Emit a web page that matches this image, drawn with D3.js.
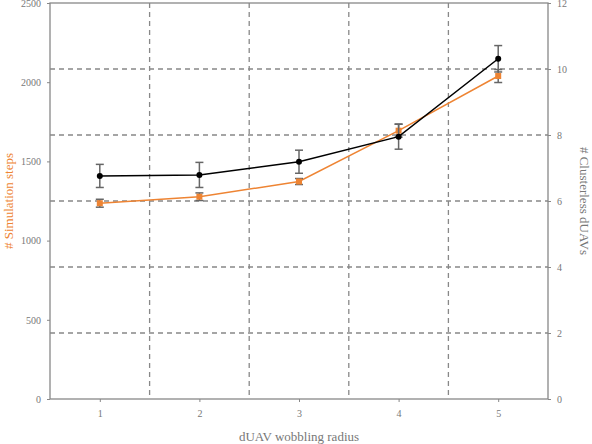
<!DOCTYPE html><html><head><meta charset="utf-8"><script src="https://cdn.jsdelivr.net/npm/d3@7"></script>
<style>body{margin:0;background:#fff}text{font-family:"Liberation Serif",serif;}</style></head><body><svg id="c" width="592" height="444"></svg><script>
const categories=[1,2,3,4,5];
const stepsValues=[1236,1277,1373,1694,2039];
const stepsErr=[25,24,19,41,41];
const clusterValues=[6.76,6.79,7.19,7.95,10.31];
const clusterErr=[0.35,0.38,0.35,0.38,0.4];
const leftTicks=[0,500,1000,1500,2000,2500];
const rightTicks=[0,2,4,6,8,10,12];
const svg=d3.select("#c");
const L=50,R=548,T=3,B=399;
const x=d3.scalePoint().domain(categories).range([L,R]).padding(0.5);
const yl=d3.scaleLinear().domain([0,2500]).range([B,T]);
const yr=d3.scaleLinear().domain([0,12]).range([B,T]);
const step=x.step();
const g=svg.append("g");
categories.slice(1).forEach(c=>g.append("line").attr("x1",x(c)-step/2).attr("x2",x(c)-step/2).attr("y1",T).attr("y2",B));
rightTicks.slice(1,-1).forEach(t=>g.append("line").attr("x1",L).attr("x2",R).attr("y1",yr(t)).attr("y2",yr(t)));
g.selectAll("line").attr("stroke","#888").attr("stroke-width",1.3).attr("stroke-dasharray","5,4");
svg.append("rect").attr("x",L).attr("y",T).attr("width",R-L).attr("height",B-T).attr("fill","none").attr("stroke","#888").attr("stroke-width",1.3);
const ax=(a)=>{a.attr("font-family",null);a.select(".domain").remove();a.selectAll("line").attr("stroke","#888");a.selectAll("text").attr("fill","#777").attr("font-size",10);};
svg.append("g").attr("transform",`translate(0,${B})`).call(d3.axisBottom(x).tickSize(3).tickPadding(8)).call(ax);
svg.append("g").attr("transform",`translate(${L},0)`).call(d3.axisLeft(yl).tickValues(leftTicks).tickFormat(d3.format("d")).tickSize(3).tickPadding(6)).call(ax);
svg.append("g").attr("transform",`translate(${R},0)`).call(d3.axisRight(yr).tickValues(rightTicks).tickSize(3).tickPadding(6)).call(ax);
function series(vals,errs,y,color,shape){
  const line=d3.line().x((d,i)=>x(categories[i])).y(d=>y(d));
  svg.append("path").attr("d",line(vals)).attr("fill","none").attr("stroke",color).attr("stroke-width",1.5);
  vals.forEach((v,i)=>{const cx=x(categories[i]);const e=errs[i];
    const eg=svg.append("g").attr("stroke","#666").attr("stroke-width",1.5);
    eg.append("line").attr("x1",cx).attr("x2",cx).attr("y1",y(v-e)).attr("y2",y(v+e));
    [v-e,v+e].forEach(w=>eg.append("line").attr("x1",cx-4).attr("x2",cx+4).attr("y1",y(w)).attr("y2",y(w)));
    if(shape==="c")svg.append("circle").attr("cx",cx).attr("cy",y(v)).attr("r",3).attr("fill",color);
    else svg.append("rect").attr("x",cx-3).attr("y",y(v)-3).attr("width",6).attr("height",6).attr("fill",color);
  });
}
series(stepsValues,stepsErr,yl,"#ee8433","s");
series(clusterValues,clusterErr,yr,"#000","c");
svg.append("text").attr("x",(L+R)/2).attr("y",441).attr("text-anchor","middle").attr("fill","#777").attr("font-size",13).text("dUAV wobbling radius");
svg.append("text").attr("transform",`translate(13,${(T+B)/2}) rotate(-90)`).attr("text-anchor","middle").attr("fill","#ee8433").attr("font-size",13).text("# Simulation steps");
svg.append("text").attr("transform",`translate(580,${(T+B)/2}) rotate(90)`).attr("text-anchor","middle").attr("fill","#777").attr("font-size",13).text("# Clusterless dUAVs");
</script></body></html>
